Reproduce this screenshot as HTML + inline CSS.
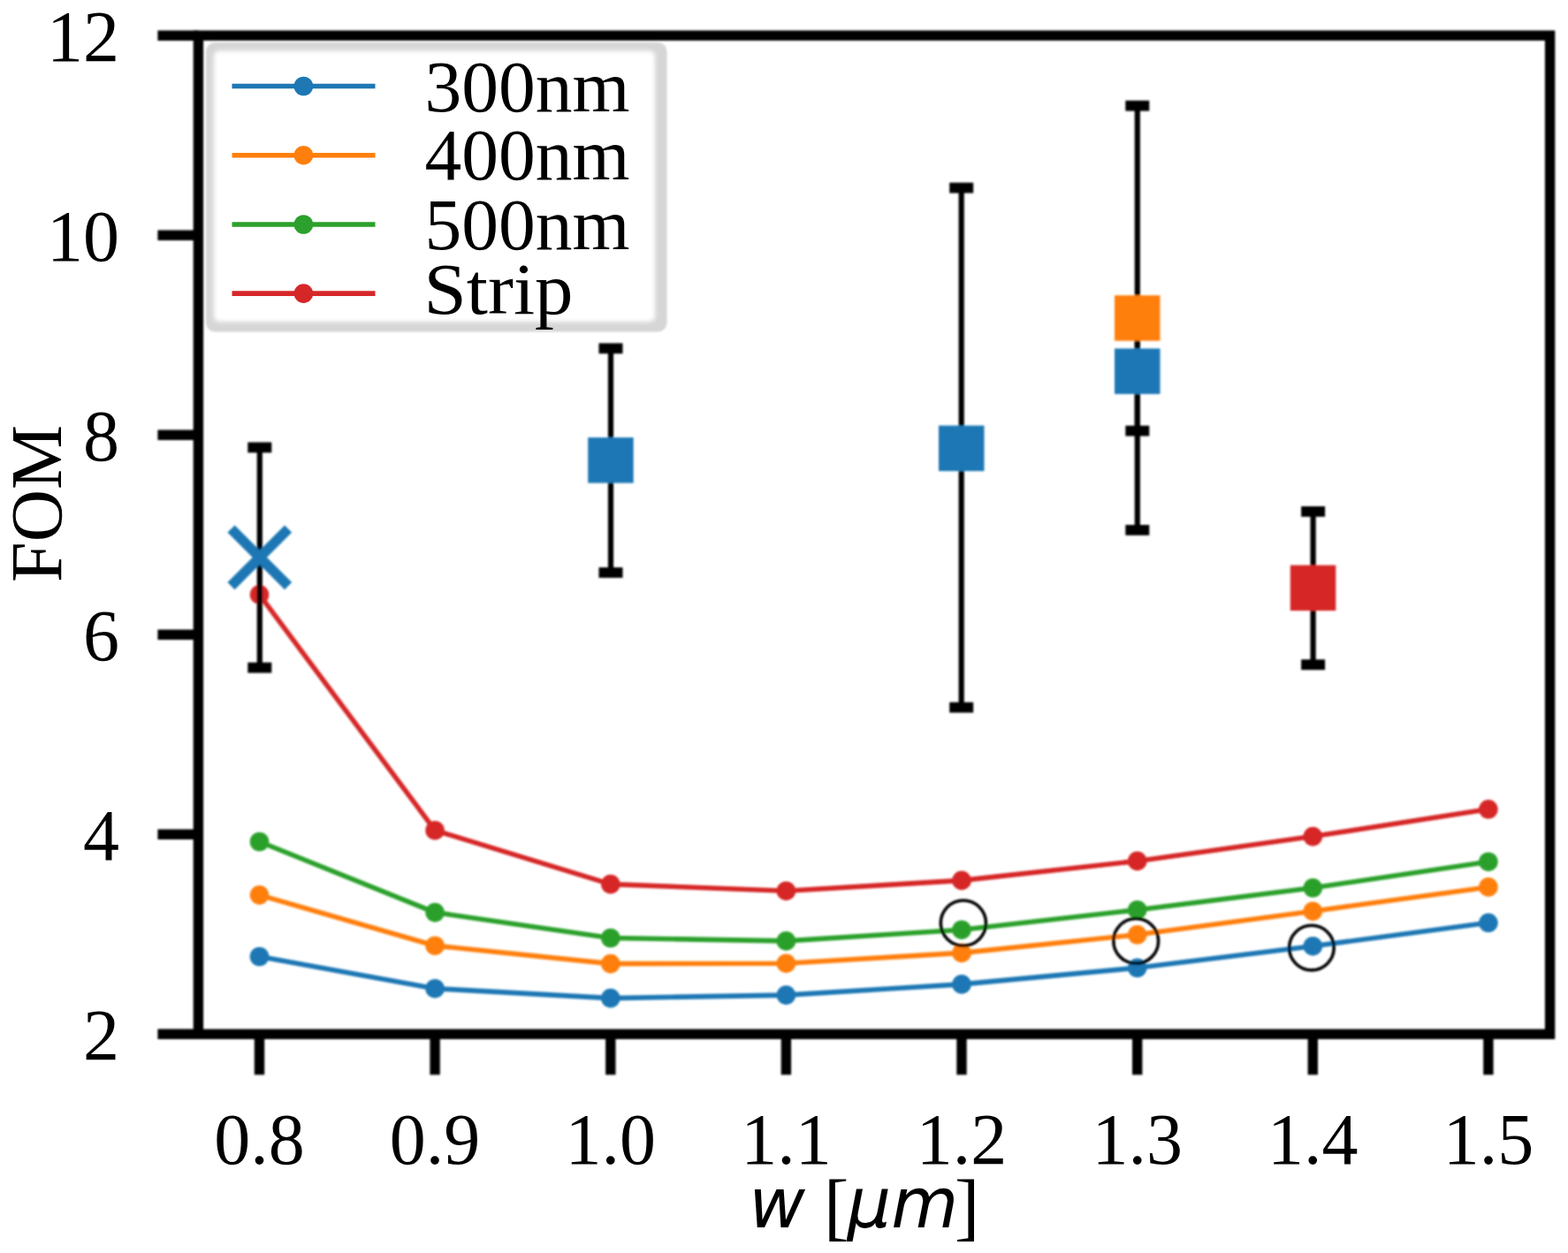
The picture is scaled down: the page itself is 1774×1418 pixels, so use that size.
<!DOCTYPE html><html><head><meta charset="utf-8"><title>FOM vs w</title><style>html,body{margin:0;padding:0;background:#fff;}svg{display:block;}</style></head><body>
<svg width="1774" height="1418" viewBox="0 0 1774 1418">
<defs><filter id="bl" x="-5%" y="-5%" width="110%" height="110%"><feGaussianBlur stdDeviation="2.6"/></filter><filter id="sb" x="-2%" y="-2%" width="104%" height="104%"><feGaussianBlur stdDeviation="0.9"/></filter><filter id="tb" x="-2%" y="-2%" width="104%" height="104%"><feGaussianBlur stdDeviation="0.65"/></filter></defs>
<rect width="1774" height="1418" fill="#fff"/>
<g filter="url(#sb)">
<polyline points="293.5,1082.5 492.1,1118.7 690.8,1129.6 889.4,1126.1 1088.0,1113.9 1286.7,1095.3 1485.3,1070.7 1683.9,1044.3" fill="none" stroke="#1f77b4" stroke-width="5.6" stroke-linejoin="round" stroke-linecap="butt"/>
<circle cx="293.5" cy="1082.5" r="10.8" fill="#1f77b4"/>
<circle cx="492.1" cy="1118.7" r="10.8" fill="#1f77b4"/>
<circle cx="690.8" cy="1129.6" r="10.8" fill="#1f77b4"/>
<circle cx="889.4" cy="1126.1" r="10.8" fill="#1f77b4"/>
<circle cx="1088.0" cy="1113.9" r="10.8" fill="#1f77b4"/>
<circle cx="1286.7" cy="1095.3" r="10.8" fill="#1f77b4"/>
<circle cx="1485.3" cy="1070.7" r="10.8" fill="#1f77b4"/>
<circle cx="1683.9" cy="1044.3" r="10.8" fill="#1f77b4"/>
<polyline points="293.5,1012.9 492.1,1070.2 690.8,1090.6 889.4,1090.2 1088.0,1078.4 1286.7,1057.8 1485.3,1031.2 1683.9,1003.9" fill="none" stroke="#ff7f0e" stroke-width="5.6" stroke-linejoin="round" stroke-linecap="butt"/>
<circle cx="293.5" cy="1012.9" r="10.8" fill="#ff7f0e"/>
<circle cx="492.1" cy="1070.2" r="10.8" fill="#ff7f0e"/>
<circle cx="690.8" cy="1090.6" r="10.8" fill="#ff7f0e"/>
<circle cx="889.4" cy="1090.2" r="10.8" fill="#ff7f0e"/>
<circle cx="1088.0" cy="1078.4" r="10.8" fill="#ff7f0e"/>
<circle cx="1286.7" cy="1057.8" r="10.8" fill="#ff7f0e"/>
<circle cx="1485.3" cy="1031.2" r="10.8" fill="#ff7f0e"/>
<circle cx="1683.9" cy="1003.9" r="10.8" fill="#ff7f0e"/>
<polyline points="293.5,952.5 492.1,1032.6 690.8,1061.5 889.4,1064.9 1088.0,1052.2 1286.7,1029.7 1485.3,1004.8 1683.9,975.2" fill="none" stroke="#2ca02c" stroke-width="5.6" stroke-linejoin="round" stroke-linecap="butt"/>
<circle cx="293.5" cy="952.5" r="10.8" fill="#2ca02c"/>
<circle cx="492.1" cy="1032.6" r="10.8" fill="#2ca02c"/>
<circle cx="690.8" cy="1061.5" r="10.8" fill="#2ca02c"/>
<circle cx="889.4" cy="1064.9" r="10.8" fill="#2ca02c"/>
<circle cx="1088.0" cy="1052.2" r="10.8" fill="#2ca02c"/>
<circle cx="1286.7" cy="1029.7" r="10.8" fill="#2ca02c"/>
<circle cx="1485.3" cy="1004.8" r="10.8" fill="#2ca02c"/>
<circle cx="1683.9" cy="975.2" r="10.8" fill="#2ca02c"/>
<polyline points="293.5,672.9 492.1,939.7 690.8,1000.6 889.4,1008.2 1088.0,996.4 1286.7,974.4 1485.3,946.6 1683.9,915.8" fill="none" stroke="#d62728" stroke-width="5.6" stroke-linejoin="round" stroke-linecap="butt"/>
<circle cx="293.5" cy="672.9" r="10.8" fill="#d62728"/>
<circle cx="492.1" cy="939.7" r="10.8" fill="#d62728"/>
<circle cx="690.8" cy="1000.6" r="10.8" fill="#d62728"/>
<circle cx="889.4" cy="1008.2" r="10.8" fill="#d62728"/>
<circle cx="1088.0" cy="996.4" r="10.8" fill="#d62728"/>
<circle cx="1286.7" cy="974.4" r="10.8" fill="#d62728"/>
<circle cx="1485.3" cy="946.6" r="10.8" fill="#d62728"/>
<circle cx="1683.9" cy="915.8" r="10.8" fill="#d62728"/>
<line x1="293.8" y1="506.4" x2="293.8" y2="755.6" stroke="#000" stroke-width="6.2"/>
<line x1="280.3" y1="506.4" x2="307.3" y2="506.4" stroke="#000" stroke-width="11.8"/>
<line x1="280.3" y1="755.6" x2="307.3" y2="755.6" stroke="#000" stroke-width="11.8"/>
<line x1="691.0" y1="394.3" x2="691.0" y2="648.0" stroke="#000" stroke-width="6.2"/>
<line x1="677.5" y1="394.3" x2="704.5" y2="394.3" stroke="#000" stroke-width="11.8"/>
<line x1="677.5" y1="648.0" x2="704.5" y2="648.0" stroke="#000" stroke-width="11.8"/>
<line x1="1087.7" y1="212.6" x2="1087.7" y2="800.6" stroke="#000" stroke-width="6.2"/>
<line x1="1074.2" y1="212.6" x2="1101.2" y2="212.6" stroke="#000" stroke-width="11.8"/>
<line x1="1074.2" y1="800.6" x2="1101.2" y2="800.6" stroke="#000" stroke-width="11.8"/>
<line x1="1286.8" y1="352.6" x2="1286.8" y2="487.6" stroke="#000" stroke-width="6.2"/>
<line x1="1273.3" y1="352.6" x2="1300.3" y2="352.6" stroke="#000" stroke-width="11.8"/>
<line x1="1273.3" y1="487.6" x2="1300.3" y2="487.6" stroke="#000" stroke-width="11.8"/>
<line x1="1286.8" y1="119.7" x2="1286.8" y2="599.9" stroke="#000" stroke-width="6.2"/>
<line x1="1273.3" y1="119.7" x2="1300.3" y2="119.7" stroke="#000" stroke-width="11.8"/>
<line x1="1273.3" y1="599.9" x2="1300.3" y2="599.9" stroke="#000" stroke-width="11.8"/>
<line x1="1485.6" y1="578.9" x2="1485.6" y2="752.2" stroke="#000" stroke-width="6.2"/>
<line x1="1472.1" y1="578.9" x2="1499.1" y2="578.9" stroke="#000" stroke-width="11.8"/>
<line x1="1472.1" y1="752.2" x2="1499.1" y2="752.2" stroke="#000" stroke-width="11.8"/>
<path d="M261.5,598.5L326.1,663.1M261.5,663.1L326.1,598.5" stroke="#1f77b4" stroke-width="11.5" fill="none"/>
<rect x="665.2" y="495.1" width="51.5" height="51.5" fill="#1f77b4"/>
<rect x="1062.0" y="481.6" width="51.5" height="51.5" fill="#1f77b4"/>
<rect x="1261.0" y="394.4" width="51.5" height="51.5" fill="#1f77b4"/>
<rect x="1261.0" y="334.2" width="51.5" height="51.5" fill="#ff7f0e"/>
<rect x="1459.8" y="639.6" width="51.5" height="51.5" fill="#d62728"/>
<circle cx="1089.9" cy="1044.6" r="25.6" fill="none" stroke="#000" stroke-width="3.6"/>
<circle cx="1285.2" cy="1064.9" r="25.4" fill="none" stroke="#000" stroke-width="3.6"/>
<circle cx="1483.9" cy="1072.6" r="25.3" fill="none" stroke="#000" stroke-width="3.6"/>
<rect x="224.4" y="40.2" width="1529.2" height="1130.1" fill="none" stroke="#000" stroke-width="11.4" stroke-linejoin="miter"/>
<line x1="178.4" y1="1170.3" x2="224.4" y2="1170.3" stroke="#000" stroke-width="11.4"/>
<line x1="178.4" y1="944.3" x2="224.4" y2="944.3" stroke="#000" stroke-width="11.4"/>
<line x1="178.4" y1="718.3" x2="224.4" y2="718.3" stroke="#000" stroke-width="11.4"/>
<line x1="178.4" y1="492.2" x2="224.4" y2="492.2" stroke="#000" stroke-width="11.4"/>
<line x1="178.4" y1="266.2" x2="224.4" y2="266.2" stroke="#000" stroke-width="11.4"/>
<line x1="178.4" y1="40.2" x2="224.4" y2="40.2" stroke="#000" stroke-width="11.4"/>
<line x1="293.5" y1="1170.3" x2="293.5" y2="1216.3" stroke="#000" stroke-width="11.4"/>
<line x1="492.1" y1="1170.3" x2="492.1" y2="1216.3" stroke="#000" stroke-width="11.4"/>
<line x1="690.8" y1="1170.3" x2="690.8" y2="1216.3" stroke="#000" stroke-width="11.4"/>
<line x1="889.4" y1="1170.3" x2="889.4" y2="1216.3" stroke="#000" stroke-width="11.4"/>
<line x1="1088.0" y1="1170.3" x2="1088.0" y2="1216.3" stroke="#000" stroke-width="11.4"/>
<line x1="1286.7" y1="1170.3" x2="1286.7" y2="1216.3" stroke="#000" stroke-width="11.4"/>
<line x1="1485.3" y1="1170.3" x2="1485.3" y2="1216.3" stroke="#000" stroke-width="11.4"/>
<line x1="1683.9" y1="1170.3" x2="1683.9" y2="1216.3" stroke="#000" stroke-width="11.4"/>
</g>
<g>
<rect x="233" y="48" width="521.5" height="327.5" rx="10" fill="#d6d6d6" filter="url(#sb)"/>
<rect x="242" y="57.5" width="499" height="306.5" rx="6" fill="#fff" filter="url(#bl)"/>
<line x1="262.5" y1="97.5" x2="424.5" y2="97.5" stroke="#1f77b4" stroke-width="5.6"/>
<circle cx="343.4" cy="97.5" r="10.8" fill="#1f77b4"/>
<line x1="262.5" y1="175.7" x2="424.5" y2="175.7" stroke="#ff7f0e" stroke-width="5.6"/>
<circle cx="343.4" cy="175.7" r="10.8" fill="#ff7f0e"/>
<line x1="262.5" y1="254.0" x2="424.5" y2="254.0" stroke="#2ca02c" stroke-width="5.6"/>
<circle cx="343.4" cy="254.0" r="10.8" fill="#2ca02c"/>
<line x1="262.5" y1="332.1" x2="424.5" y2="332.1" stroke="#d62728" stroke-width="5.6"/>
<circle cx="343.4" cy="332.1" r="10.8" fill="#d62728"/>
</g>
<g font-family='"Liberation Serif", "DejaVu Serif", serif' font-size="82" fill="#000" filter="url(#tb)">
<text x="480.5" y="125.6" textLength="232" lengthAdjust="spacingAndGlyphs">300nm</text>
<text x="480.5" y="203.2" textLength="232" lengthAdjust="spacingAndGlyphs">400nm</text>
<text x="480.5" y="282.0" textLength="232" lengthAdjust="spacingAndGlyphs">500nm</text>
<text x="479.5" y="355.2" textLength="169" lengthAdjust="spacingAndGlyphs">Strip</text>
<text x="135" y="1199.3" text-anchor="end">2</text>
<text x="135" y="973.3" text-anchor="end">4</text>
<text x="135" y="747.3" text-anchor="end">6</text>
<text x="135" y="521.2" text-anchor="end">8</text>
<text x="135" y="295.2" text-anchor="end">10</text>
<text x="135" y="69.2" text-anchor="end">12</text>
<text x="293.5" y="1317" text-anchor="middle">0.8</text>
<text x="492.1" y="1317" text-anchor="middle">0.9</text>
<text x="690.8" y="1317" text-anchor="middle">1.0</text>
<text x="889.4" y="1317" text-anchor="middle">1.1</text>
<text x="1088.0" y="1317" text-anchor="middle">1.2</text>
<text x="1286.7" y="1317" text-anchor="middle">1.3</text>
<text x="1485.3" y="1317" text-anchor="middle">1.4</text>
<text x="1683.9" y="1317" text-anchor="middle">1.5</text>
<text transform="translate(69,570) rotate(-90)" text-anchor="middle" textLength="178" lengthAdjust="spacingAndGlyphs">FOM</text>
</g>
<g font-size="78" filter="url(#tb)"><text x="847.3" y="1389" font-family='"DejaVu Sans", sans-serif' font-style="italic">w</text><text x="932" y="1394" font-family='"Liberation Serif", serif' font-size="85">[</text><text x="958.5" y="1389" font-family='"DejaVu Sans", sans-serif' font-style="italic">μm</text><text x="1080" y="1394" font-family='"Liberation Serif", serif' font-size="85">]</text></g>
</svg></body></html>
